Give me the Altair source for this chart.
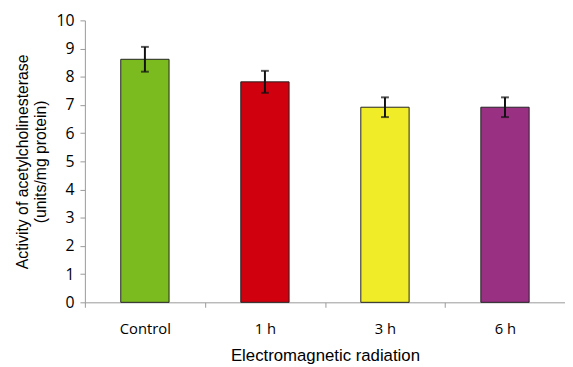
import altair as alt
import pandas as pd

groups = ["Control", "1 h", "3 h", "6 h"]
means = [8.62, 7.82, 6.92, 6.92]
errors = [0.44, 0.39, 0.35, 0.35]
colors = ["#7CBB1F", "#D0000F", "#F0EC27", "#993082"]
y_ticks = [0, 1, 2, 3, 4, 5, 6, 7, 8, 9, 10]

df = pd.DataFrame({"group": groups, "mean": means, "err": errors})
df["lo"] = df["mean"] - df["err"]
df["hi"] = df["mean"] + df["err"]

x_axis = alt.Axis(title="Electromagnetic radiation", labelAngle=0,
                  tickBand="extent", tickSize=5, tickColor="#999999",
                  domainColor="#999999", labelFont="Open Sans", labelFontSize=15,
                  labelFontWeight="normal",
                  labelColor="#000000", labelPadding=15,
                  titleFont="Liberation Sans", titleFontSize=17,
                  titleFontWeight="normal", titleColor="#000000",
                  titlePadding=11)
x_scale = alt.Scale(paddingInner=0, paddingOuter=0)

y_axis = alt.Axis(title=["Activity of acetylcholinesterase", "(units/mg protein)"],
                  values=y_ticks, grid=False, tickSize=5, labelOverlap=False,
                  tickColor="#999999", domainColor="#999999",
                  labelFont="Open Sans", labelFontSize=16, labelColor="#000000",
                  labelFontWeight="normal", labelPadding=6,
                  titleFont="Liberation Sans", titleFontSize=16,
                  titleLineHeight=18,
                  titleFontWeight="normal", titleColor="#000000",
                  titlePadding=8)
y_scale = alt.Scale(domain=[0, 10])

base = alt.Chart(df)

bars = base.mark_bar(size=49, stroke="#222222", strokeWidth=1).encode(
    x=alt.X("group:N", sort=groups, scale=x_scale, axis=x_axis),
    y=alt.Y("mean:Q", scale=y_scale, axis=y_axis),
    color=alt.Color("group:N", sort=groups,
                    scale=alt.Scale(domain=groups, range=colors), legend=None),
)

rules = base.mark_rule(color="#111111", strokeWidth=2).encode(
    x=alt.X("group:N", sort=groups, scale=x_scale, axis=x_axis),
    y=alt.Y("lo:Q", scale=y_scale, axis=y_axis), y2="hi:Q")
cap_hi = base.mark_tick(color="#111111", thickness=2, size=8, orient="horizontal").encode(
    x=alt.X("group:N", sort=groups, scale=x_scale, axis=x_axis),
    y=alt.Y("hi:Q", scale=y_scale, axis=y_axis))
cap_lo = base.mark_tick(color="#111111", thickness=2, size=8, orient="horizontal").encode(
    x=alt.X("group:N", sort=groups, scale=x_scale, axis=x_axis),
    y=alt.Y("lo:Q", scale=y_scale, axis=y_axis))

chart = alt.layer(bars, rules, cap_hi, cap_lo).properties(
    width=487, height=286,
    autosize=alt.AutoSizeParams(type="none"),
    padding={"left": 78, "top": 10, "right": 0, "bottom": 60},
    background="#ffffff",
).configure_view(stroke=None)

chart.save("out.html", embed_options={"renderer": "svg", "actions": False})
